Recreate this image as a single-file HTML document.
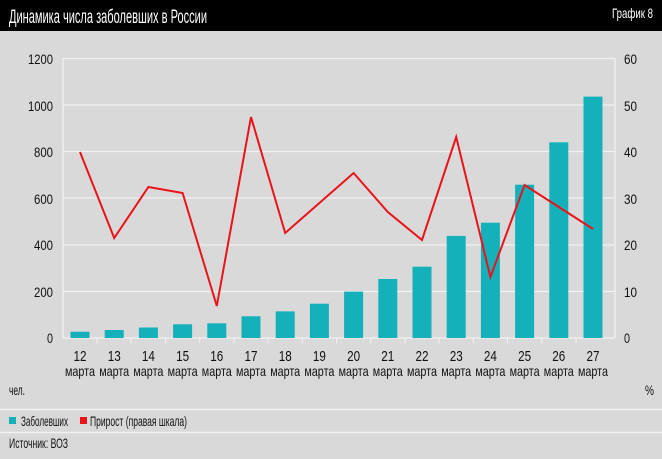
<!DOCTYPE html>
<html><head><meta charset="utf-8"><style>
body{margin:0;width:662px;height:454px;background:#d9d9d9;overflow:hidden}
svg text{font-family:"Liberation Sans",sans-serif;fill:#111}
</style></head><body>
<svg width="662" height="454" xmlns="http://www.w3.org/2000/svg">
<rect width="662" height="454" fill="#d9d9d9"/>
<rect width="662" height="31" fill="#000"/>
<text x="9" y="23" font-size="19" textLength="198" lengthAdjust="spacingAndGlyphs" style="fill:#fff">Динамика числа заболевших в России</text>
<text x="612" y="18" font-size="14" textLength="41" lengthAdjust="spacingAndGlyphs" style="fill:#fff">График 8</text>
<g stroke="#f2f2f2" stroke-width="1.2">
<line x1="63" y1="58.5" x2="615" y2="58.5"/>
<line x1="63" y1="105" x2="615" y2="105"/>
<line x1="63" y1="151.5" x2="615" y2="151.5"/>
<line x1="63" y1="198" x2="615" y2="198"/>
<line x1="63" y1="245" x2="615" y2="245"/>
<line x1="63" y1="291.5" x2="615" y2="291.5"/>
<line x1="63" y1="338" x2="615" y2="338"/>
<line x1="63" y1="58" x2="63" y2="338"/>
<line x1="615" y1="58" x2="615" y2="338"/>
</g>
<g font-size="14" text-anchor="end">
<text x="53" y="64" textLength="25" lengthAdjust="spacingAndGlyphs">1200</text><text x="53" y="111" textLength="25" lengthAdjust="spacingAndGlyphs">1000</text><text x="53" y="157" textLength="19" lengthAdjust="spacingAndGlyphs">800</text><text x="53" y="204" textLength="19" lengthAdjust="spacingAndGlyphs">600</text><text x="53" y="250" textLength="19" lengthAdjust="spacingAndGlyphs">400</text><text x="53" y="297" textLength="19" lengthAdjust="spacingAndGlyphs">200</text><text x="53" y="343" textLength="6" lengthAdjust="spacingAndGlyphs">0</text>
</g>
<g font-size="14">
<text x="624" y="64" textLength="13" lengthAdjust="spacingAndGlyphs">60</text><text x="624" y="111" textLength="13" lengthAdjust="spacingAndGlyphs">50</text><text x="624" y="157" textLength="13" lengthAdjust="spacingAndGlyphs">40</text><text x="624" y="204" textLength="13" lengthAdjust="spacingAndGlyphs">30</text><text x="624" y="250" textLength="13" lengthAdjust="spacingAndGlyphs">20</text><text x="624" y="297" textLength="13" lengthAdjust="spacingAndGlyphs">10</text><text x="624" y="343" textLength="6" lengthAdjust="spacingAndGlyphs">0</text>
</g>
<g fill="#14b1bb">
<rect x="70.5" y="331.7" width="19" height="6.3"/>
<rect x="104.7" y="330" width="19" height="8"/>
<rect x="138.9" y="327.5" width="19" height="10.5"/>
<rect x="173.1" y="324.3" width="19" height="13.7"/>
<rect x="207.3" y="323.3" width="19" height="14.7"/>
<rect x="241.5" y="316.3" width="19" height="21.7"/>
<rect x="275.7" y="311.4" width="19" height="26.6"/>
<rect x="309.9" y="303.7" width="19" height="34.3"/>
<rect x="344.1" y="291.6" width="19" height="46.4"/>
<rect x="378.3" y="279" width="19" height="59"/>
<rect x="412.5" y="266.7" width="19" height="71.3"/>
<rect x="446.7" y="235.9" width="19" height="102.1"/>
<rect x="480.9" y="222.7" width="19" height="115.3"/>
<rect x="515.1" y="184.7" width="19" height="153.3"/>
<rect x="549.3" y="142.3" width="19" height="195.7"/>
<rect x="583.5" y="96.6" width="19" height="241.4"/>
</g>
<polyline fill="none" stroke="#e8141a" stroke-width="2" points="80,152 114.2,238 148.4,187 182.6,193 216.8,306 251,117 285.2,233 319.4,203 353.6,173 387.8,212 422,240 456.2,137 490.4,277 524.6,185 558.8,207 593,229"/>
<g stroke="#f2f2f2" stroke-width="1">
<line x1="97" y1="338" x2="97" y2="343"/><line x1="131" y1="338" x2="131" y2="343"/><line x1="165.5" y1="338" x2="165.5" y2="343"/><line x1="199.7" y1="338" x2="199.7" y2="343"/><line x1="234" y1="338" x2="234" y2="343"/><line x1="268" y1="338" x2="268" y2="343"/><line x1="302.3" y1="338" x2="302.3" y2="343"/><line x1="336.5" y1="338" x2="336.5" y2="343"/><line x1="370.7" y1="338" x2="370.7" y2="343"/><line x1="405" y1="338" x2="405" y2="343"/><line x1="439" y1="338" x2="439" y2="343"/><line x1="473.3" y1="338" x2="473.3" y2="343"/><line x1="507.5" y1="338" x2="507.5" y2="343"/><line x1="541.7" y1="338" x2="541.7" y2="343"/><line x1="576" y1="338" x2="576" y2="343"/>
</g>
<g font-size="15" text-anchor="middle">
<text x="80" y="361" textLength="13" lengthAdjust="spacingAndGlyphs">12</text><text x="114.2" y="361" textLength="13" lengthAdjust="spacingAndGlyphs">13</text><text x="148.4" y="361" textLength="13" lengthAdjust="spacingAndGlyphs">14</text><text x="182.6" y="361" textLength="13" lengthAdjust="spacingAndGlyphs">15</text><text x="216.8" y="361" textLength="13" lengthAdjust="spacingAndGlyphs">16</text><text x="251" y="361" textLength="13" lengthAdjust="spacingAndGlyphs">17</text><text x="285.2" y="361" textLength="13" lengthAdjust="spacingAndGlyphs">18</text><text x="319.4" y="361" textLength="13" lengthAdjust="spacingAndGlyphs">19</text><text x="353.6" y="361" textLength="13" lengthAdjust="spacingAndGlyphs">20</text><text x="387.8" y="361" textLength="13" lengthAdjust="spacingAndGlyphs">21</text><text x="422" y="361" textLength="13" lengthAdjust="spacingAndGlyphs">22</text><text x="456.2" y="361" textLength="13" lengthAdjust="spacingAndGlyphs">23</text><text x="490.4" y="361" textLength="13" lengthAdjust="spacingAndGlyphs">24</text><text x="524.6" y="361" textLength="13" lengthAdjust="spacingAndGlyphs">25</text><text x="558.8" y="361" textLength="13" lengthAdjust="spacingAndGlyphs">26</text><text x="593" y="361" textLength="13" lengthAdjust="spacingAndGlyphs">27</text>
</g>
<g font-size="14" text-anchor="middle">
<text x="80" y="376" textLength="30" lengthAdjust="spacingAndGlyphs">марта</text><text x="114.2" y="376" textLength="30" lengthAdjust="spacingAndGlyphs">марта</text><text x="148.4" y="376" textLength="30" lengthAdjust="spacingAndGlyphs">марта</text><text x="182.6" y="376" textLength="30" lengthAdjust="spacingAndGlyphs">марта</text><text x="216.8" y="376" textLength="30" lengthAdjust="spacingAndGlyphs">марта</text><text x="251" y="376" textLength="30" lengthAdjust="spacingAndGlyphs">марта</text><text x="285.2" y="376" textLength="30" lengthAdjust="spacingAndGlyphs">марта</text><text x="319.4" y="376" textLength="30" lengthAdjust="spacingAndGlyphs">марта</text><text x="353.6" y="376" textLength="30" lengthAdjust="spacingAndGlyphs">марта</text><text x="387.8" y="376" textLength="30" lengthAdjust="spacingAndGlyphs">марта</text><text x="422" y="376" textLength="30" lengthAdjust="spacingAndGlyphs">марта</text><text x="456.2" y="376" textLength="30" lengthAdjust="spacingAndGlyphs">марта</text><text x="490.4" y="376" textLength="30" lengthAdjust="spacingAndGlyphs">марта</text><text x="524.6" y="376" textLength="30" lengthAdjust="spacingAndGlyphs">марта</text><text x="558.8" y="376" textLength="30" lengthAdjust="spacingAndGlyphs">марта</text><text x="593" y="376" textLength="30" lengthAdjust="spacingAndGlyphs">марта</text>
</g>
<text x="9" y="395" font-size="14" textLength="16" lengthAdjust="spacingAndGlyphs">чел.</text>
<text x="645" y="395" font-size="14" textLength="9" lengthAdjust="spacingAndGlyphs">%</text>
<line x1="0" y1="409.5" x2="662" y2="409.5" stroke="#f2f2f2" stroke-width="1.5"/>
<line x1="0" y1="432.5" x2="662" y2="432.5" stroke="#f2f2f2" stroke-width="1.5"/>
<rect x="9" y="417" width="7" height="7" fill="#14b1bb"/>
<text x="21" y="426" font-size="14" textLength="47" lengthAdjust="spacingAndGlyphs">Заболевших</text>
<rect x="80" y="417" width="7" height="7" fill="#e8141a"/>
<text x="90" y="426" font-size="14" textLength="97" lengthAdjust="spacingAndGlyphs">Прирост (правая шкала)</text>
<text x="9" y="448" font-size="14" textLength="59" lengthAdjust="spacingAndGlyphs">Источник: ВОЗ</text>
</svg>
</body></html>
